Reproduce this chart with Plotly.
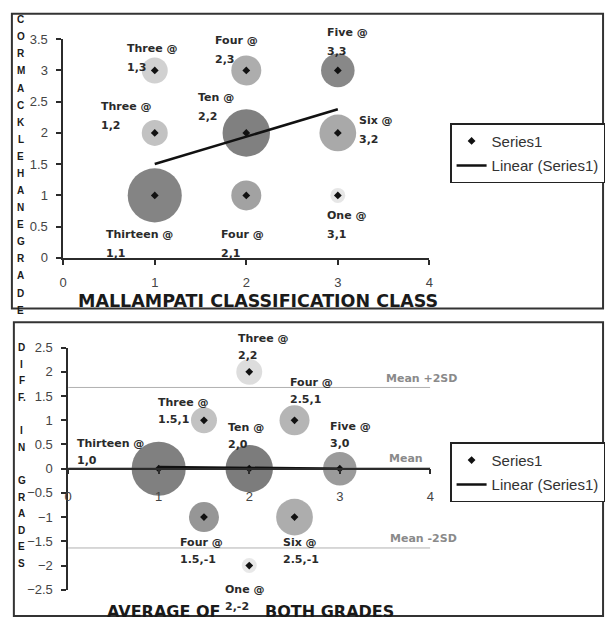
import numpy as np
import plotly.graph_objects as go

# ---------------- DATA ----------------
# Top panel: Mallampati class vs Cormack-Lehane grade (patients per combination)
mallampati = [1, 1, 1, 2, 2, 2, 3, 3, 3]
cormack = [1, 2, 3, 1, 2, 3, 1, 2, 3]
counts_top = [13, 3, 3, 4, 10, 4, 1, 6, 5]

# Bottom panel: average of both grades vs difference in grades
avg_grade = [1, 1.5, 2, 1.5, 2, 2.5, 2, 2.5, 3]
diff_grade = [0, 1, 2, -1, 0, 1, -2, -1, 0]
counts_bot = [13, 3, 3, 4, 10, 4, 1, 6, 5]

top_xticks = [0, 1, 2, 3, 4]
top_yticks = [0, 0.5, 1, 1.5, 2, 2.5, 3, 3.5]
bot_xticks = [0, 1, 2, 3, 4]
bot_yticks = [-2.5, -2, -1.5, -1, -0.5, 0, 0.5, 1, 1.5, 2, 2.5]

number_words = {1: "One", 3: "Three", 4: "Four", 5: "Five", 6: "Six",
                10: "Ten", 13: "Thirteen"}

top_xtitle = "MALLAMPATI CLASSIFICATION CLASS"
bot_xtitle_a = "AVERAGE OF"
bot_xtitle_b = "BOTH GRADES"
top_ytitle = "CORMACKLEHANEGRADE"
bot_ytitle = ["D", "I", "F", "F.", "", "I", "N", "", "G", "R", "A", "D", "E", "S"]

# ---------------- STYLE ----------------
W, H = 611, 628
def fx(p): return p / W
def fy(p): return 1 - p / H

top_colors = ["#505050", "#a8a8a8", "#bdbdbd", "#7a7a7a", "#4a4a4a",
              "#8a8a8a", "#dcdcdc", "#858585", "#555555"]
bot_colors = ["#4a4a4a", "#a8a8a8", "#cfcfcf", "#6a6a6a", "#454545",
              "#959595", "#dedede", "#8a8a8a", "#707070"]
# label offsets in pixels (dx to left edge, dy of first line centre)
top_label_off = [(-51, -39), (-56, 26), (-30, 22), (-27, -39), (-50, 35),
                 (-33, 30), (-13, -20), (19, 12), (-13, 38)]
bot_label_off = [(-84, 25), (-48, 18), (-13, 33), (-26, -25), (-23, 41),
                 (-7, 38), (-26, -24), (-14, -25), (-12, 42)]

LBL_FONT = dict(family="DejaVu Sans", size=11, color="#2a2a2a")
TICK_FONT = dict(family="Liberation Sans, Arial", size=13, color="#444")
AX_COL = "#2b2b2b"

fig = go.Figure()

# ---------- top panel ----------
sizes_top = [15 * np.sqrt(c) for c in counts_top]
fig.add_trace(go.Scatter(x=mallampati, y=cormack, mode="markers",
                         marker=dict(symbol="circle", size=sizes_top, color=top_colors,
                                     line=dict(width=0)),
                         showlegend=False, hoverinfo="skip", xaxis="x", yaxis="y"))
fig.add_trace(go.Scatter(x=mallampati, y=cormack, mode="markers", name="Series1",
                         marker=dict(symbol="diamond", size=6, color="#111"),
                         legend="legend", legendgroup="a", xaxis="x", yaxis="y"))
xr = np.repeat(mallampati, counts_top)
yr = np.repeat(cormack, counts_top)
k, b = np.polyfit(xr, yr, 1)
tx = np.array([min(mallampati), max(mallampati)], dtype=float)
fig.add_trace(go.Scatter(x=tx, y=k * tx + b, mode="lines", name="Linear (Series1)",
                         line=dict(color="#111", width=2.5),
                         legend="legend", legendgroup="b", xaxis="x", yaxis="y"))

# ---------- bottom panel ----------
dr = np.repeat(diff_grade, counts_bot)
mean_d = dr.mean()
sd_d = dr.std(ddof=1)
for lvl in [mean_d + 2 * sd_d, mean_d, mean_d - 2 * sd_d]:
    fig.add_trace(go.Scatter(x=[bot_xticks[0], bot_xticks[-1]], y=[lvl, lvl], mode="lines",
                             line=dict(color="#b0b0b0", width=1), showlegend=False,
                             hoverinfo="skip", xaxis="x2", yaxis="y2"))
sizes_bot = [15 * np.sqrt(c) for c in counts_bot]
fig.add_trace(go.Scatter(x=avg_grade, y=diff_grade, mode="markers",
                         marker=dict(symbol="circle", size=sizes_bot, color=bot_colors,
                                     line=dict(width=0)),
                         showlegend=False, hoverinfo="skip", xaxis="x2", yaxis="y2"))
fig.add_trace(go.Scatter(x=avg_grade, y=diff_grade, mode="markers", name="Series1",
                         marker=dict(symbol="diamond", size=6, color="#111"),
                         legend="legend2", legendgroup="c", xaxis="x2", yaxis="y2"))
ar = np.repeat(avg_grade, counts_bot)
k2, b2 = np.polyfit(ar, dr, 1)
tx2 = np.array([min(avg_grade), max(avg_grade)], dtype=float)
fig.add_trace(go.Scatter(x=tx2, y=k2 * tx2 + b2, mode="lines", name="Linear (Series1)",
                         line=dict(color="#111", width=2.5),
                         legend="legend2", legendgroup="d", xaxis="x2", yaxis="y2"))

annotations = []
# data labels
for i in range(len(mallampati)):
    dx, dy = top_label_off[i]
    annotations.append(dict(x=mallampati[i], y=cormack[i], xref="x", yref="y",
                            text="<b>%s @</b>" % number_words[counts_top[i]],
                            showarrow=False, xanchor="left", yanchor="middle",
                            xshift=dx, yshift=dy, font=LBL_FONT))
    annotations.append(dict(x=mallampati[i], y=cormack[i], xref="x", yref="y",
                            text="<b>%g,%g</b>" % (mallampati[i], cormack[i]),
                            showarrow=False, xanchor="left", yanchor="middle",
                            xshift=dx, yshift=dy - 19, font=LBL_FONT))
for i in range(len(avg_grade)):
    dx, dy = bot_label_off[i]
    annotations.append(dict(x=avg_grade[i], y=diff_grade[i], xref="x2", yref="y2",
                            text="<b>%s @</b>" % number_words[counts_bot[i]],
                            showarrow=False, xanchor="left", yanchor="middle",
                            xshift=dx, yshift=dy, font=LBL_FONT))
    annotations.append(dict(x=avg_grade[i], y=diff_grade[i], xref="x2", yref="y2",
                            text="<b>%g,%g</b>" % (avg_grade[i], diff_grade[i]),
                            showarrow=False, xanchor="left", yanchor="middle",
                            xshift=dx, yshift=dy - 17, font=LBL_FONT))

# mean / SD labels
GREY_FONT = dict(family="DejaVu Sans", size=11, color="#8a8a8a")
for lvl, txt, xx in [(mean_d + 2 * sd_d, "Mean +2SD", 3.9),
                     (mean_d, "Mean", 3.73),
                     (mean_d - 2 * sd_d, "Mean -2SD", 3.92)]:
    annotations.append(dict(x=xx, y=lvl, xref="x2", yref="y2", text="<b>%s</b>" % txt,
                            showarrow=False, xanchor="center", yanchor="middle",
                            yshift=9, font=GREY_FONT))

# axis titles
TITLE_FONT = dict(family="DejaVu Sans", size=17.5, color="#1a1a1a")
annotations.append(dict(x=fx(257), y=fy(301), xref="paper", yref="paper",
                        text="<b>%s</b>" % top_xtitle, showarrow=False,
                        xanchor="center", yanchor="middle", font=TITLE_FONT))
BT_FONT = dict(family="DejaVu Sans", size=16, color="#1a1a1a")
annotations.append(dict(x=fx(221), y=fy(619), xref="paper", yref="paper",
                        text="<b>%s</b>" % bot_xtitle_a, showarrow=False,
                        xanchor="right", yanchor="middle", font=BT_FONT))
annotations.append(dict(x=fx(262), y=fy(619), xref="paper", yref="paper",
                        text="<b>%s</b>" % bot_xtitle_b, showarrow=False,
                        xanchor="left", yanchor="middle", font=BT_FONT))

VFONT = dict(family="Liberation Sans, Arial", size=10, color="#1a1a1a")
for j, ch in enumerate(top_ytitle):
    annotations.append(dict(x=fx(17), y=fy(13 + 17.5 * j), xref="paper", yref="paper",
                            text="<b>%s</b>" % ch, showarrow=False,
                            xanchor="center", yanchor="middle", font=VFONT))
for j, ch in enumerate(bot_ytitle):
    if ch:
        annotations.append(dict(x=fx(18), y=fy(349 + 17 * j), xref="paper", yref="paper",
                                text="<b>%s</b>" % ch, showarrow=False,
                                xanchor="center", yanchor="middle", font=VFONT))

# panel borders
shapes = [
    dict(type="rect", xref="paper", yref="paper", x0=fx(8), x1=fx(607), y0=fy(309), y1=fy(7),
         line=dict(color="#333", width=2)),
    dict(type="rect", xref="paper", yref="paper", x0=fx(10), x1=fx(607), y0=fy(624), y1=fy(323),
         line=dict(color="#333", width=2)),
]

axis_common = dict(showgrid=False, zeroline=False, showline=True, linecolor=AX_COL,
                   linewidth=1.5, ticks="outside", ticklen=5, tickcolor=AX_COL,
                   tickwidth=1.5, tickfont=TICK_FONT, fixedrange=True)

ydom2 = [fy(597), fy(349)]
yrange2 = [bot_yticks[0], bot_yticks[-1]]
xpos2 = ydom2[0] + (0 - yrange2[0]) / (yrange2[1] - yrange2[0]) * (ydom2[1] - ydom2[0])

LEG_FONT = dict(family="Liberation Sans, Arial", size=15, color="#333")
fig.update_layout(
    width=W, height=H, margin=dict(l=0, r=0, t=0, b=0),
    paper_bgcolor="white", plot_bgcolor="rgba(0,0,0,0)",
    xaxis=dict(domain=[fx(60), fx(431)], range=[top_xticks[0], top_xticks[-1]],
               tickvals=top_xticks, anchor="y", ticklabelstandoff=7, **axis_common),
    yaxis=dict(domain=[fy(257), fy(33)], range=[top_yticks[0], top_yticks[-1]],
               tickvals=top_yticks, anchor="x", ticklabelstandoff=6, **axis_common),
    xaxis2=dict(domain=[fx(65), fx(432)], range=[bot_xticks[0], bot_xticks[-1]],
                tickvals=bot_xticks, anchor="free", position=xpos2,
                ticklabelstandoff=11, **axis_common),
    yaxis2=dict(domain=ydom2, range=yrange2, tickvals=bot_yticks, anchor="x2",
                ticklabelstandoff=6, **axis_common),
    legend=dict(x=fx(452), y=fy(119), xanchor="left", yanchor="top",
                bordercolor="#222", borderwidth=1.5, bgcolor="white",
                font=LEG_FONT, tracegroupgap=2),
    legend2=dict(x=fx(452), y=fy(446), xanchor="left", yanchor="top",
                 bordercolor="#222", borderwidth=1.5, bgcolor="white",
                 font=LEG_FONT, tracegroupgap=2),
    annotations=annotations, shapes=shapes,
)

fig.write_html("out.html", config={"displayModeBar": False},
               post_script="document.body.style.margin='0';document.body.style.overflow='hidden';")
